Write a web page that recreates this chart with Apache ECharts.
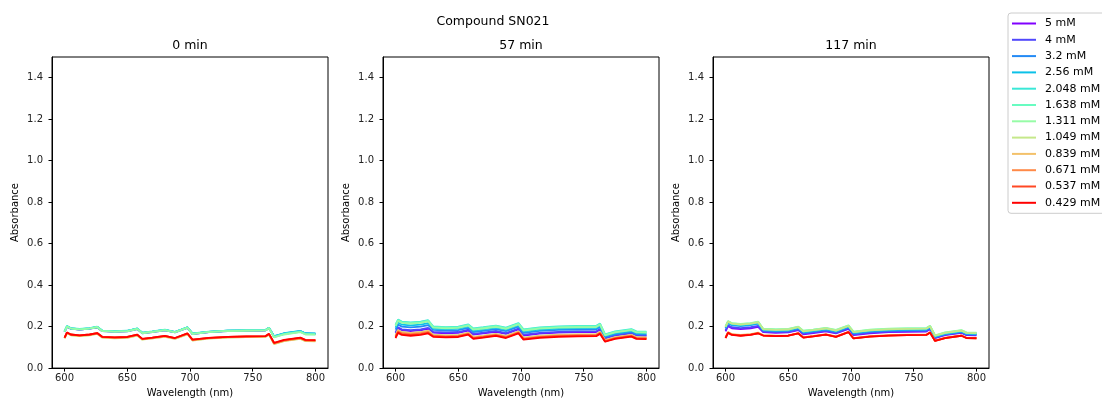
<!DOCTYPE html>
<html><head><meta charset="utf-8">
<script src="https://cdn.jsdelivr.net/npm/echarts@6.0.0/dist/echarts.min.js"></script>
<style>html,body{margin:0;padding:0;background:#fff}#c{width:1102px;height:403px}</style>
</head><body><div id="c"></div>
<script>
const wavelengths = [600,602,605,612,620,626,630,640,650,658,662,670,680,688,698,702,715,730,745,760,763,767,775,788,792,800];
const concentrations = ['5 mM','4 mM','3.2 mM','2.56 mM','2.048 mM','1.638 mM','1.311 mM','1.049 mM','0.839 mM','0.671 mM','0.537 mM','0.429 mM'];
const colors = ['#8000ff','#5148fc','#238af5','#0cc1e8','#3ae8d7','#68fcc1','#97fca7','#c5e88a','#f3c16a','#ff8a48','#ff4824','#ff0000'];
const panelTitles = ['0 min','57 min','117 min'];
const xTicks = [600,650,700,750,800];
const yTicks = [0,0.2,0.4,0.6,0.8,1.0,1.2,1.4];

const absorbance0min = [
[0.175,0.200,0.190,0.186,0.190,0.197,0.179,0.176,0.178,0.189,0.169,0.175,0.183,0.173,0.195,0.165,0.174,0.179,0.181,0.182,0.193,0.151,0.165,0.176,0.165,0.164],
[0.175,0.200,0.190,0.186,0.190,0.197,0.178,0.175,0.177,0.188,0.168,0.174,0.182,0.172,0.194,0.164,0.173,0.178,0.180,0.181,0.192,0.152,0.166,0.177,0.166,0.165],
[0.176,0.201,0.191,0.187,0.191,0.198,0.180,0.177,0.179,0.190,0.170,0.176,0.184,0.174,0.196,0.166,0.175,0.180,0.182,0.183,0.194,0.153,0.167,0.178,0.167,0.166],
[0.177,0.202,0.192,0.188,0.192,0.199,0.180,0.177,0.179,0.190,0.170,0.176,0.184,0.174,0.196,0.166,0.175,0.180,0.182,0.183,0.194,0.154,0.168,0.179,0.168,0.167],
[0.178,0.203,0.193,0.189,0.193,0.200,0.181,0.178,0.180,0.191,0.171,0.177,0.185,0.175,0.197,0.167,0.176,0.181,0.183,0.184,0.195,0.152,0.166,0.177,0.166,0.165],
[0.177,0.202,0.192,0.188,0.192,0.199,0.180,0.177,0.179,0.190,0.170,0.176,0.184,0.174,0.196,0.166,0.175,0.180,0.182,0.183,0.194,0.150,0.164,0.175,0.164,0.163],
[0.175,0.200,0.190,0.186,0.190,0.197,0.178,0.175,0.177,0.188,0.168,0.174,0.182,0.172,0.194,0.164,0.173,0.178,0.180,0.181,0.192,0.148,0.162,0.173,0.162,0.161],
[0.143,0.168,0.158,0.154,0.158,0.165,0.147,0.144,0.146,0.157,0.137,0.143,0.151,0.141,0.163,0.133,0.142,0.147,0.149,0.150,0.161,0.116,0.130,0.141,0.130,0.129],
[0.144,0.169,0.159,0.155,0.159,0.166,0.148,0.145,0.147,0.158,0.138,0.144,0.152,0.142,0.164,0.134,0.143,0.148,0.150,0.151,0.162,0.117,0.131,0.142,0.131,0.130],
[0.146,0.171,0.161,0.157,0.161,0.168,0.150,0.147,0.149,0.160,0.140,0.146,0.154,0.144,0.166,0.136,0.145,0.150,0.152,0.153,0.164,0.119,0.133,0.144,0.133,0.132],
[0.147,0.172,0.162,0.158,0.162,0.169,0.151,0.148,0.150,0.161,0.141,0.147,0.155,0.145,0.167,0.137,0.146,0.151,0.153,0.154,0.165,0.121,0.135,0.146,0.135,0.134],
[0.147,0.172,0.162,0.158,0.162,0.169,0.151,0.148,0.150,0.161,0.141,0.147,0.155,0.145,0.167,0.137,0.146,0.151,0.153,0.154,0.165,0.122,0.136,0.147,0.136,0.135]
];

const absorbance57min = [
[0.167,0.192,0.182,0.178,0.182,0.189,0.171,0.168,0.170,0.181,0.161,0.167,0.175,0.165,0.187,0.157,0.166,0.171,0.173,0.174,0.185,0.143,0.157,0.168,0.157,0.156],
[0.172,0.197,0.187,0.183,0.187,0.194,0.175,0.172,0.174,0.185,0.165,0.171,0.179,0.169,0.191,0.161,0.170,0.175,0.177,0.178,0.189,0.145,0.159,0.170,0.159,0.158],
[0.185,0.210,0.200,0.196,0.200,0.207,0.184,0.181,0.183,0.194,0.174,0.180,0.188,0.178,0.200,0.170,0.179,0.184,0.186,0.187,0.198,0.150,0.164,0.175,0.164,0.163],
[0.195,0.220,0.210,0.206,0.210,0.217,0.191,0.188,0.190,0.201,0.181,0.187,0.195,0.185,0.207,0.177,0.186,0.191,0.193,0.194,0.205,0.155,0.169,0.180,0.169,0.168],
[0.209,0.234,0.224,0.220,0.224,0.231,0.201,0.198,0.200,0.211,0.191,0.197,0.205,0.195,0.217,0.187,0.196,0.201,0.203,0.204,0.215,0.163,0.177,0.188,0.177,0.176],
[0.207,0.232,0.222,0.218,0.222,0.229,0.199,0.196,0.198,0.209,0.189,0.195,0.203,0.193,0.215,0.185,0.194,0.199,0.201,0.202,0.213,0.161,0.175,0.186,0.175,0.174],
[0.203,0.228,0.218,0.214,0.218,0.225,0.195,0.192,0.194,0.205,0.185,0.191,0.199,0.189,0.211,0.181,0.190,0.195,0.197,0.198,0.209,0.158,0.172,0.183,0.172,0.171],
[0.159,0.184,0.174,0.170,0.174,0.181,0.161,0.158,0.160,0.171,0.151,0.157,0.165,0.155,0.177,0.147,0.156,0.161,0.163,0.164,0.175,0.135,0.149,0.160,0.149,0.148],
[0.157,0.182,0.172,0.168,0.172,0.179,0.159,0.156,0.158,0.169,0.149,0.155,0.163,0.153,0.175,0.145,0.154,0.159,0.161,0.162,0.173,0.134,0.148,0.159,0.148,0.147],
[0.153,0.178,0.168,0.164,0.168,0.175,0.156,0.153,0.155,0.166,0.146,0.152,0.160,0.150,0.172,0.142,0.151,0.156,0.158,0.159,0.170,0.131,0.145,0.156,0.145,0.144],
[0.149,0.174,0.164,0.160,0.164,0.171,0.154,0.151,0.153,0.164,0.144,0.150,0.158,0.148,0.170,0.140,0.149,0.154,0.156,0.157,0.168,0.129,0.143,0.154,0.143,0.142],
[0.145,0.170,0.160,0.156,0.160,0.167,0.151,0.148,0.150,0.161,0.141,0.147,0.155,0.145,0.167,0.137,0.146,0.151,0.153,0.154,0.165,0.127,0.141,0.152,0.141,0.140]
];

const absorbance117min = [
[0.177,0.202,0.192,0.188,0.192,0.199,0.173,0.170,0.172,0.183,0.163,0.169,0.177,0.167,0.189,0.159,0.168,0.173,0.175,0.176,0.187,0.145,0.159,0.170,0.159,0.158],
[0.182,0.207,0.197,0.193,0.197,0.204,0.176,0.173,0.175,0.186,0.166,0.172,0.180,0.170,0.192,0.162,0.171,0.176,0.178,0.179,0.190,0.147,0.161,0.172,0.161,0.160],
[0.192,0.217,0.207,0.203,0.207,0.214,0.181,0.178,0.180,0.191,0.171,0.177,0.185,0.175,0.197,0.167,0.176,0.181,0.183,0.184,0.195,0.150,0.164,0.175,0.164,0.163],
[0.195,0.220,0.210,0.206,0.210,0.217,0.184,0.181,0.183,0.194,0.174,0.180,0.188,0.178,0.200,0.170,0.179,0.184,0.186,0.187,0.198,0.152,0.166,0.177,0.166,0.165],
[0.199,0.224,0.214,0.210,0.214,0.221,0.187,0.184,0.186,0.197,0.177,0.183,0.191,0.181,0.203,0.173,0.182,0.187,0.189,0.190,0.201,0.155,0.169,0.180,0.169,0.168],
[0.201,0.226,0.216,0.212,0.216,0.223,0.189,0.186,0.188,0.199,0.179,0.185,0.193,0.183,0.205,0.175,0.184,0.189,0.191,0.192,0.203,0.157,0.171,0.182,0.171,0.170],
[0.202,0.227,0.217,0.213,0.217,0.224,0.190,0.187,0.189,0.200,0.180,0.186,0.194,0.184,0.206,0.176,0.185,0.190,0.192,0.193,0.204,0.158,0.172,0.183,0.172,0.171],
[0.199,0.224,0.214,0.210,0.214,0.221,0.187,0.184,0.186,0.197,0.177,0.183,0.191,0.181,0.203,0.173,0.182,0.187,0.189,0.190,0.201,0.156,0.170,0.181,0.170,0.169],
[0.149,0.174,0.164,0.160,0.164,0.171,0.159,0.156,0.158,0.169,0.149,0.155,0.163,0.153,0.175,0.145,0.154,0.159,0.161,0.162,0.173,0.133,0.147,0.158,0.147,0.146],
[0.147,0.172,0.162,0.158,0.162,0.169,0.158,0.155,0.157,0.168,0.148,0.154,0.162,0.152,0.174,0.144,0.153,0.158,0.160,0.161,0.172,0.132,0.146,0.157,0.146,0.145],
[0.146,0.171,0.161,0.157,0.161,0.168,0.157,0.154,0.156,0.167,0.147,0.153,0.161,0.151,0.173,0.143,0.152,0.157,0.159,0.160,0.171,0.131,0.145,0.156,0.145,0.144],
[0.145,0.170,0.160,0.156,0.160,0.167,0.157,0.154,0.156,0.167,0.147,0.153,0.161,0.151,0.173,0.143,0.152,0.157,0.159,0.160,0.171,0.131,0.145,0.156,0.145,0.144]
];

const panels = [absorbance0min, absorbance57min, absorbance117min];
const gridLefts = [52, 383, 713];
const gridWidth = 276;
const FONT = 'DejaVu Sans';

const chart = echarts.init(document.getElementById('c'), null, {renderer: 'canvas'});
const grids = [], xAxes = [], yAxes = [], series = [];
const titles = [{
  text: 'Compound SN021', left: 493, top: 15, padding: 0, textAlign: 'center',
  textStyle: {fontFamily: FONT, fontSize: 12.5, fontWeight: 'normal', color: '#000'}
}];
panels.forEach((panel, p) => {
  grids.push({left: gridLefts[p], top: 57, width: gridWidth, height: 312, show: true,
    borderColor: '#000', borderWidth: 1, backgroundColor: 'transparent', containLabel: false});
  titles.push({text: panelTitles[p], left: gridLefts[p] + gridWidth / 2, top: 39.5, padding: 0, textAlign: 'center',
    textStyle: {fontFamily: FONT, fontSize: 12.5, fontWeight: 'normal', color: '#000'}});
  xAxes.push({type: 'value', gridIndex: p, min: 590, max: 810,
    name: 'Wavelength (nm)', nameLocation: 'middle', nameGap: 12,
    nameTextStyle: {fontFamily: FONT, fontSize: 10, color: '#000'},
    axisLine: {show: true, lineStyle: {color: '#000', width: 1}},
    axisTick: {show: true, length: 3.5, customValues: xTicks, lineStyle: {color: '#000'}},
    axisLabel: {customValues: xTicks, margin: 5, fontFamily: FONT, fontSize: 10, color: '#222'},
    splitLine: {show: false}});
  yAxes.push({type: 'value', gridIndex: p, min: 0, max: 1.5,
    name: 'Absorbance', nameLocation: 'middle', nameGap: 32,
    nameTextStyle: {fontFamily: FONT, fontSize: 10, color: '#000'},
    axisLine: {show: true, lineStyle: {color: '#000', width: 1}},
    axisTick: {show: true, length: 3.5, customValues: yTicks, lineStyle: {color: '#000'}},
    axisLabel: {customValues: yTicks, margin: 9, fontFamily: FONT, fontSize: 10, color: '#222',
      formatter: v => v.toFixed(1)},
    splitLine: {show: false}});
  panel.forEach((vals, i) => {
    series.push({type: 'line', name: concentrations[i], xAxisIndex: p, yAxisIndex: p,
      data: wavelengths.map((w, k) => [w, vals[k]]),
      symbol: 'none', showSymbol: false, smooth: false, silent: true, animation: false,
      lineStyle: {color: colors[i], width: 1.8}, itemStyle: {color: colors[i]}});
  });
});

chart.setOption({
  backgroundColor: '#fff',
  animation: false,
  title: titles,
  grid: grids,
  xAxis: xAxes,
  yAxis: yAxes,
  legend: {data: concentrations, orient: 'vertical', left: 1008, top: 13, icon: 'rect',
    padding: [5, 8, 5, 4], itemWidth: 24, itemHeight: 2, itemGap: 5.3,
    borderColor: '#ccc', borderWidth: 1, borderRadius: 3, backgroundColor: '#fff',
    textStyle: {fontFamily: FONT, fontSize: 11, lineHeight: 11, color: '#000', padding: [0, 0, 0, 4]}},
  series: series
});
</script></body></html>
